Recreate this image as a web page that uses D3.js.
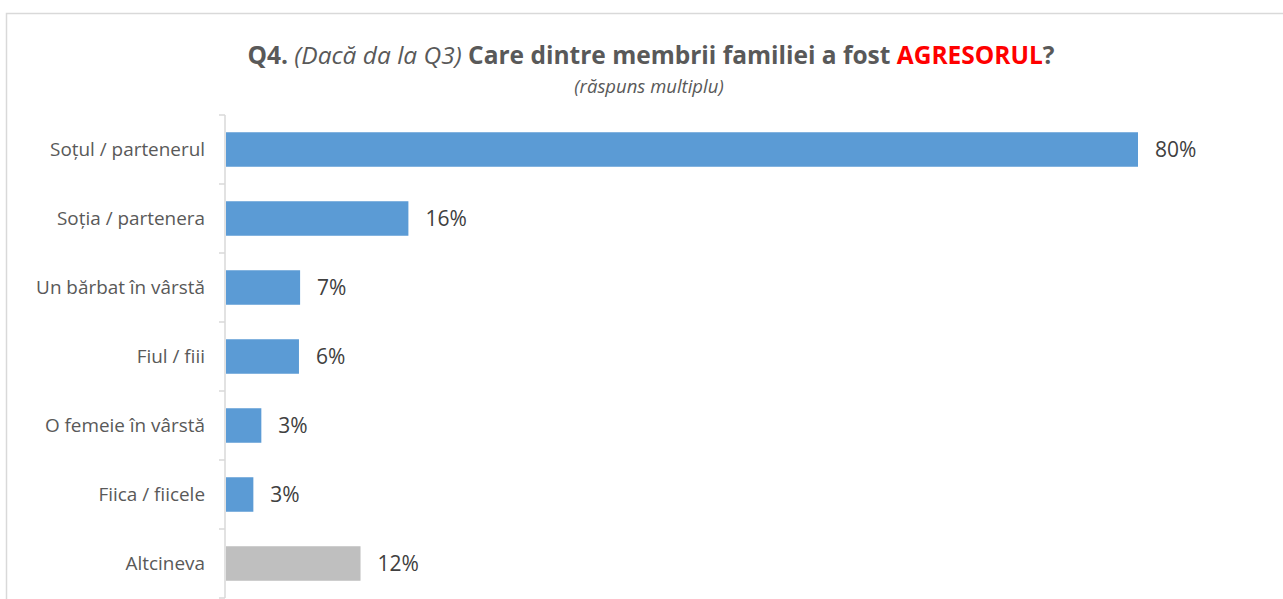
<!DOCTYPE html>
<html>
<head>
<meta charset="utf-8">
<script src="https://cdn.jsdelivr.net/npm/d3@7"></script>
<style>
  body { margin: 0; background: #fff; }
  text { font-family: "Open Sans", sans-serif; fill: #595959; }
</style>
</head>
<body>
<div id="chart"></div>
<script>
// categories, top to bottom
let categories = ["Soțul / partenerul", "Soția / partenera", "Un bărbat în vârstă", "Fiul / fiii", "O femeie în vârstă", "Fiica / fiicele", "Altcineva"];
// bar lengths (percent) and their printed labels
let values = [80, 16, 6.5, 6.4, 3.1, 2.4, 11.8];
let valueLabels = ["80%", "16%", "7%", "6%", "3%", "3%", "12%"];
let barColors = ["#5B9BD5", "#5B9BD5", "#5B9BD5", "#5B9BD5", "#5B9BD5", "#5B9BD5", "#BFBFBF"];

let data = categories.map((c, i) => ({name: c, value: values[i], label: valueLabels[i], color: barColors[i]}));

let W = 1283, H = 599;
let svg = d3.select('#chart').append('svg')
    .attr('width', W)
    .attr('height', H);

// chart frame
svg.append('rect')
    .attr('x', 6.5).attr('y', 13.5)
    .attr('width', W).attr('height', H)
    .attr('fill', 'none')
    .attr('stroke', '#D9D9D9')
    .attr('stroke-width', 1.5);

let xScale = d3.scaleLinear().domain([0, 80]).range([226, 1138]);
let yScale = d3.scaleBand().domain(categories).range([115, 598]).paddingInner(0.5).paddingOuter(0.25);

// title
let title = svg.append('text')
    .attr('x', 651).attr('y', 64)
    .attr('text-anchor', 'middle')
    .style('font-size', '24.5px');
title.append('tspan').attr('font-weight', 'bold').text('Q4. ');
title.append('tspan').attr('font-style', 'italic').text('(Dacă da la Q3) ');
title.append('tspan').attr('font-weight', 'bold').text('Care dintre membrii familiei a fost ');
title.append('tspan').attr('font-weight', 'bold').style('fill', '#FF0000').text('AGRESORUL');
title.append('tspan').attr('font-weight', 'bold').text('?');

svg.append('text')
    .attr('x', 649).attr('y', 93)
    .attr('text-anchor', 'middle')
    .attr('font-style', 'italic')
    .style('font-size', '18.5px')
    .text('(răspuns multiplu)');

// bars
let bar = svg.selectAll('g.bar')
    .data(data)
    .enter()
    .append('g')
    .attr('class', 'bar');

bar.append('rect')
    .attr('x', xScale(0))
    .attr('y', d => yScale(d.name))
    .attr('width', d => xScale(d.value) - xScale(0))
    .attr('height', yScale.bandwidth())
    .attr('fill', d => d.color);

bar.append('text')
    .attr('x', d => xScale(d.value) + 17)
    .attr('y', d => yScale(d.name) + yScale.bandwidth() / 2)
    .attr('dy', '0.36em')
    .style('font-size', '21px')
    .style('fill', '#404040')
    .text(d => d.label);

// category axis
let yAxis = d3.axisLeft(yScale).tickSize(0).tickPadding(20);
let axisG = svg.append('g')
    .attr('transform', 'translate(225,0)')
    .call(yAxis);
axisG.select('.domain').remove();
axisG.selectAll('text')
    .style('font-size', '18.9px')
    .style('fill', '#595959');

svg.append('line')
    .attr('x1', 225).attr('x2', 225)
    .attr('y1', 115).attr('y2', 598)
    .attr('stroke', '#D9D9D9').attr('stroke-width', 1.5);

let boundaries = categories.map(c => yScale(c) - yScale.step() * yScale.paddingInner() / 2).concat([598]);
svg.selectAll('line.tick')
    .data(boundaries)
    .enter()
    .append('line')
    .attr('class', 'tick')
    .attr('x1', 219).attr('x2', 225)
    .attr('y1', d => d).attr('y2', d => d)
    .attr('stroke', '#D9D9D9').attr('stroke-width', 1.5);
</script>
</body>
</html>
